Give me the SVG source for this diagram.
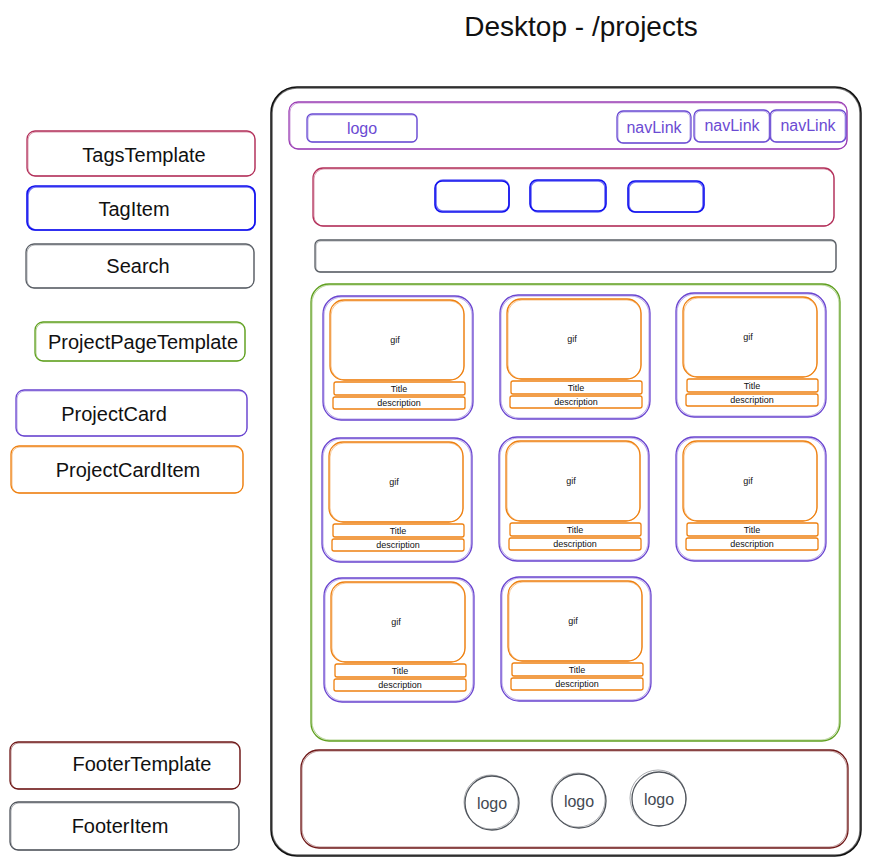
<svg xmlns="http://www.w3.org/2000/svg" xmlns:xlink="http://www.w3.org/1999/xlink" width="870" height="865" viewBox="0 0 870 865">
<style>
  rect, circle { fill: none; stroke-width: 1.3; }
  .b2 { stroke-width: 0.8; opacity: 0.6; }
  text { font-family: "Liberation Sans", Arial, sans-serif; text-anchor: middle; }
  .lg { font-size: 20px; fill: #111; }
  .sm { font-size: 9px; fill: #111; }
  .nav { font-size: 16px; fill: #6b4bd3; }
  .flogo { font-size: 16px; fill: #444a52; }
  .frame { stroke: #111; stroke-width: 1.5; }
  .hdr { stroke: #9b3fb5; }
  .nv { stroke: #6b4bd3; }
  .tags { stroke: #b3305a; }
  .tag { stroke: #1010ee; stroke-width: 1.6; }
  .srch { stroke: #5a5f66; }
  .page { stroke: #60a020; }
  .card { stroke: #6a45d0; }
  .item { stroke: #ee8010; }
  .foot { stroke: #6f1818; }
  .fi { stroke: #50555c; }
</style>
<rect width="870" height="865" fill="#ffffff" stroke="none"/>
<text x="581" y="36" style="font-size:28px; fill:#111;">Desktop - /projects</text>

<g id="frame">
  <rect class="frame" x="271" y="87" width="590" height="769" rx="26"/>
  <rect class="frame b2" x="272" y="88" width="588" height="767" rx="25"/>
</g>

<g id="header">
  <rect class="hdr" x="289" y="102" width="558" height="47" rx="9"/>
  <rect class="hdr b2" x="290" y="103" width="557" height="46" rx="9"/>
</g>
<g id="header-logo">
  <rect class="nv" x="307" y="114" width="110" height="28" rx="5"/>
  <rect class="nv b2" x="308" y="115" width="109" height="27" rx="5"/>
  <text class="nav" x="362" y="134">logo</text>
</g>
<g id="navLink-1">
  <rect class="nv" x="617" y="111" width="74" height="32" rx="6"/>
  <rect class="nv b2" x="618" y="112" width="72" height="31" rx="6"/>
  <text class="nav" x="654" y="133">navLink</text>
</g>
<g id="navLink-2">
  <rect class="nv" x="694" y="110" width="76" height="32" rx="6"/>
  <rect class="nv b2" x="695" y="111" width="74" height="31" rx="6"/>
  <text class="nav" x="732" y="131">navLink</text>
</g>
<g id="navLink-3">
  <rect class="nv" x="770" y="110" width="76" height="32" rx="6"/>
  <rect class="nv b2" x="771" y="111" width="74" height="31" rx="6"/>
  <text class="nav" x="808" y="131">navLink</text>
</g>

<g id="tags-template">
  <rect class="tags" x="313" y="168" width="521" height="58" rx="10"/>
  <rect class="tags b2" x="314" y="169" width="520" height="57" rx="10"/>
</g>
<g id="tag-1">
  <rect class="tag" x="435" y="181" width="74" height="31" rx="7"/>
  <rect class="tag b2" x="436" y="180" width="73" height="31" rx="7"/>
</g>
<g id="tag-2">
  <rect class="tag" x="530" y="180" width="76" height="31" rx="7"/>
  <rect class="tag b2" x="531" y="181" width="74" height="31" rx="7"/>
</g>
<g id="tag-3">
  <rect class="tag" x="628" y="181" width="76" height="31" rx="7"/>
  <rect class="tag b2" x="629" y="182" width="74" height="30" rx="7"/>
</g>

<g id="search">
  <rect class="srch" x="315" y="240" width="521" height="32" rx="5"/>
  <rect class="srch b2" x="316" y="241" width="520" height="31" rx="5"/>
</g>

<g id="project-page-template">
  <rect class="page" x="311" y="284" width="529" height="457" rx="18"/>
  <rect class="page b2" x="312" y="285" width="527" height="455" rx="18"/>
</g>

<defs>
  <g id="cardShape">
    <rect class="card" x="0" y="0" width="150" height="124" rx="18"/>
    <rect class="card b2" x="1" y="1" width="148" height="122" rx="18"/>
    <rect class="item" x="7" y="4" width="134" height="80" rx="14"/>
    <rect class="item b2" x="8" y="5" width="133" height="79" rx="14"/>
    <rect class="item" x="11" y="86" width="131" height="13" rx="2"/>
    <rect class="item" x="10" y="101" width="132" height="12" rx="2"/>
    <text class="sm" x="72" y="47">gif</text>
    <text class="sm" x="76" y="96">Title</text>
    <text class="sm" x="76" y="110">description</text>
  </g>
</defs>

<g id="card-1" transform="translate(323,296)"><use xlink:href="#cardShape" href="#cardShape"/></g>
<g id="card-2" transform="translate(500,295)"><use xlink:href="#cardShape" href="#cardShape"/></g>
<g id="card-3" transform="translate(676,293)"><use xlink:href="#cardShape" href="#cardShape"/></g>
<g id="card-4" transform="translate(322,438)"><use xlink:href="#cardShape" href="#cardShape"/></g>
<g id="card-5" transform="translate(499,437)"><use xlink:href="#cardShape" href="#cardShape"/></g>
<g id="card-6" transform="translate(676,437)"><use xlink:href="#cardShape" href="#cardShape"/></g>
<g id="card-7" transform="translate(324,578)"><use xlink:href="#cardShape" href="#cardShape"/></g>
<g id="card-8" transform="translate(501,577)"><use xlink:href="#cardShape" href="#cardShape"/></g>

<g id="footer">
  <rect class="foot" x="301" y="750" width="547" height="98" rx="18"/>
  <rect class="foot b2" x="302" y="751" width="545" height="96" rx="18"/>
</g>
<g id="footer-logo-1">
  <circle class="fi" cx="492" cy="803" r="27"/>
  <circle class="fi b2" cx="491" cy="802" r="27"/>
  <text class="flogo" x="492" y="809">logo</text>
</g>
<g id="footer-logo-2">
  <circle class="fi" cx="579" cy="801" r="27"/>
  <circle class="fi b2" cx="578" cy="800" r="27"/>
  <text class="flogo" x="579" y="807">logo</text>
</g>
<g id="footer-logo-3">
  <circle class="fi" cx="659" cy="799" r="27"/>
  <circle class="fi b2" cx="658" cy="798" r="28"/>
  <text class="flogo" x="659" y="805">logo</text>
</g>

<g id="legend-tags-template">
  <rect class="tags" x="27" y="131" width="228" height="45" rx="8"/>
  <rect class="tags b2" x="28" y="132" width="227" height="44" rx="8"/>
  <text class="lg" x="144" y="162">TagsTemplate</text>
</g>
<g id="legend-tag-item">
  <rect class="tag" x="27" y="186" width="228" height="44" rx="8"/>
  <rect class="tag b2" x="28" y="187" width="227" height="43" rx="8"/>
  <text class="lg" x="134" y="216">TagItem</text>
</g>
<g id="legend-search">
  <rect class="srch" x="26" y="244" width="228" height="44" rx="8"/>
  <rect class="srch b2" x="27" y="245" width="227" height="43" rx="8"/>
  <text class="lg" x="138" y="273">Search</text>
</g>
<g id="legend-project-page-template">
  <rect class="page" x="35" y="322" width="210" height="39" rx="8"/>
  <rect class="page b2" x="36" y="323" width="209" height="38" rx="8"/>
  <text class="lg" x="143" y="349">ProjectPageTemplate</text>
</g>
<g id="legend-project-card">
  <rect class="card" x="16" y="390" width="231" height="46" rx="8"/>
  <rect class="card b2" x="17" y="391" width="230" height="45" rx="8"/>
  <text class="lg" x="114" y="421">ProjectCard</text>
</g>
<g id="legend-project-card-item">
  <rect class="item" x="11" y="446" width="232" height="47" rx="8"/>
  <rect class="item b2" x="12" y="447" width="231" height="46" rx="8"/>
  <text class="lg" x="128" y="477">ProjectCardItem</text>
</g>
<g id="legend-footer-template">
  <rect class="foot" x="10" y="742" width="230" height="47" rx="8"/>
  <rect class="foot b2" x="11" y="743" width="229" height="46" rx="8"/>
  <text class="lg" x="142" y="771">FooterTemplate</text>
</g>
<g id="legend-footer-item">
  <rect class="fi" x="10" y="802" width="229" height="48" rx="8"/>
  <rect class="fi b2" x="11" y="803" width="228" height="47" rx="8"/>
  <text class="lg" x="120" y="833">FooterItem</text>
</g>
</svg>
